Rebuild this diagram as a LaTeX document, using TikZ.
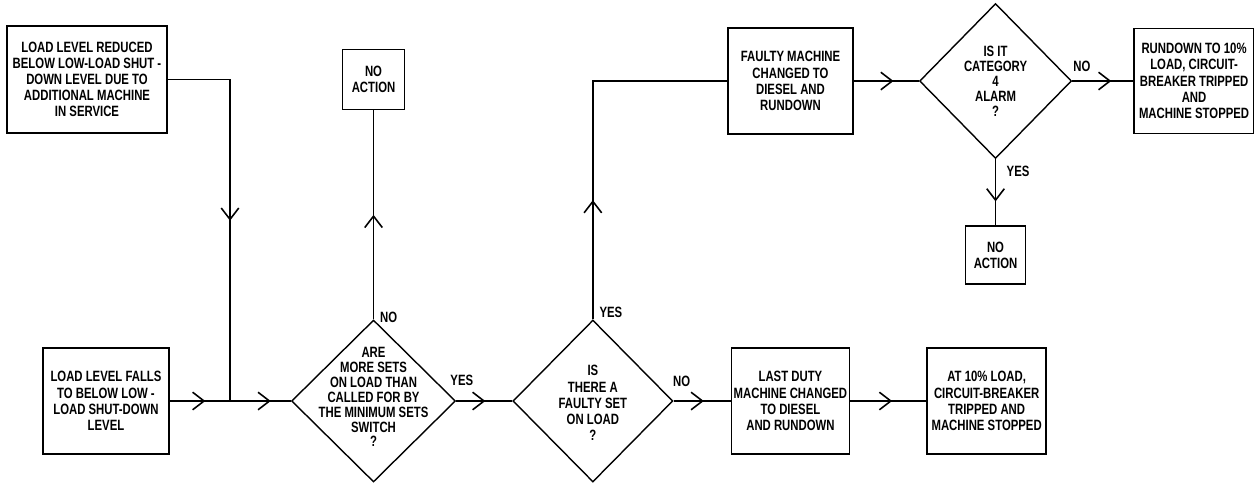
\documentclass[tikz,border=0pt]{standalone}
\usepackage{fontspec}
\setmainfont{Liberation Sans}[FakeStretch=0.76]
\usetikzlibrary{arrows.meta,calc,positioning,shapes.geometric,decorations.markings}

\begin{document}
\begin{tikzpicture}[x=0.02cm,y=-0.02cm,line width=0.9pt,font=\bfseries\fontsize{8.5}{9.2}\selectfont,
  flow/.style={postaction={decorate},decoration={markings,mark=at position #1 with {\arrow{Straight Barb[length=6.5pt,width=10pt]}}}}]
\tikzstyle{box}=[draw,align=center,inner sep=1pt,line width=1pt]
\tikzstyle{query}=[draw,diamond,inner sep=0pt,line width=0.8pt]
\useasboundingbox (0,0) rectangle (1254,485);
% left inputs
\node[box,minimum width=3.2cm,minimum height=2.14cm] (reduced) at (87,79.5) {LOAD LEVEL REDUCED\\BELOW LOW-LOAD SHUT -\\DOWN LEVEL DUE TO\\ADDITIONAL MACHINE\\IN SERVICE};
\node[box,minimum width=2.52cm,minimum height=2.12cm] (falls) at (106,401) {LOAD LEVEL FALLS\\TO BELOW LOW -\\LOAD SHUT-DOWN\\LEVEL};
\coordinate (join) at (230,401);
% main row
\node[query,minimum width=3.28cm,minimum height=3.24cm,right=2.42cm of falls,
  label={[align=center,font=\bfseries\fontsize{8.5}{8.5}\selectfont,yshift=0.08cm]center:ARE\\MORE SETS\\ON LOAD THAN\\CALLED FOR BY\\THE MINIMUM SETS\\SWITCH\\?}] (sets) {};
\node[box,minimum width=1.24cm,minimum height=1.2cm,above=4.18cm of sets] (nact1) {NO\\ACTION};
\node[query,minimum width=3.2cm,minimum height=3.24cm,right=1.12cm of sets,
  label={[align=center,yshift=-0.04cm]center:IS\\THERE A\\FAULTY SET\\ON LOAD\\?}] (fault) {};
\node[box,minimum width=2.36cm,minimum height=2.12cm,right=1.14cm of fault] (last) {LAST DUTY\\MACHINE CHANGED\\TO DIESEL\\AND RUNDOWN};
\node[box,minimum width=2.38cm,minimum height=2.12cm,right=1.52cm of last] (at10) {AT 10\% LOAD,\\CIRCUIT-BREAKER\\TRIPPED AND\\MACHINE STOPPED};
% top row
\node[box,minimum width=2.5cm,minimum height=2.12cm] (faulty) at (790.5,81) {FAULTY MACHINE\\CHANGED TO\\DIESEL AND\\RUNDOWN};
\node[query,minimum width=3.04cm,minimum height=3.1cm,right=1.3cm of faulty,
  label={[align=center,font=\bfseries\fontsize{8.5}{8.5}\selectfont]center:IS IT\\CATEGORY\\4\\ALARM\\?}] (alarm) {};
\node[box,minimum width=2.4cm,minimum height=2.1cm,right=1.22cm of alarm] (rund) {RUNDOWN TO 10\%\\LOAD, CIRCUIT-\\BREAKER TRIPPED\\AND\\MACHINE STOPPED};
\node[box,minimum width=1.2cm,minimum height=1.16cm,below=1.32cm of alarm] (nact2) {NO\\ACTION};
% connectors
\draw[flow=0.53] (reduced.east) -| (join);
\draw[flow=0.59] (falls) -- (join);
\draw[flow=0.67] (join) -- (sets);
\draw[flow=0.5] (sets) -- node[pos=0.01,right] (no1) {NO} (nact1);
\draw[flow=0.52] (sets) -- node[pos=0.1,above=0.17cm] (yes1) {YES} (fault);
\draw[flow=0.32] (fault.north) |- node[pos=0.015,right] (yes2) {YES} (faulty.west);
\draw[flow=0.53] (fault) -- node[pos=0.14,above=0.15cm] (no2) {NO} (last);
\draw[flow=0.55] (last) -- (at10);
\draw[flow=0.61] (faulty) -- (alarm);
\draw[flow=0.64] (alarm) -- node[pos=0.16,above=0.05cm] (no3) {NO} (rund);
\draw[flow=0.64] (alarm) -- node[pos=0.18,right=0.09cm] (yes3) {YES} (nact2);
\end{tikzpicture}
\end{document}
